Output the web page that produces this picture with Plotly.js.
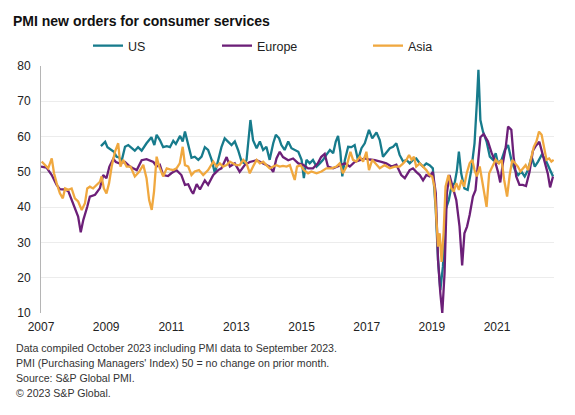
<!DOCTYPE html>
<html>
<head>
<meta charset="utf-8">
<script src="https://cdn.plot.ly/plotly-3.0.1.min.js"></script>
<style>html,body{margin:0;padding:0;background:#fff;}#chart{width:575px;height:415px;}</style>
</head>
<body>
<div id="chart"></div>
<script>
var usX = [2008.84,2008.97,2009.04,2009.17,2009.24,2009.32,2009.40,2009.47,2009.58,2009.68,2009.78,2009.88,2009.98,2010.09,2010.24,2010.39,2010.48,2010.55,2010.65,2010.75,2010.86,2010.96,2011.06,2011.14,2011.27,2011.35,2011.42,2011.52,2011.62,2011.72,2011.83,2011.93,2012.03,2012.13,2012.24,2012.34,2012.44,2012.54,2012.64,2012.75,2012.85,2012.95,2013.05,2013.16,2013.26,2013.31,2013.43,2013.51,2013.62,2013.72,2013.82,2013.92,2014.02,2014.13,2014.21,2014.31,2014.38,2014.48,2014.59,2014.69,2014.79,2014.90,2015.00,2015.07,2015.15,2015.25,2015.35,2015.46,2015.56,2015.66,2015.76,2015.87,2015.97,2016.05,2016.12,2016.19,2016.25,2016.33,2016.43,2016.53,2016.63,2016.73,2016.84,2016.94,2017.07,2017.17,2017.30,2017.40,2017.50,2017.60,2017.71,2017.81,2017.91,2018.01,2018.12,2018.22,2018.32,2018.42,2018.52,2018.63,2018.73,2018.83,2018.93,2019.03,2019.12,2019.19,2019.26,2019.34,2019.42,2019.52,2019.60,2019.70,2019.77,2019.83,2019.90,2020.00,2020.10,2020.21,2020.31,2020.38,2020.43,2020.49,2020.57,2020.68,2020.78,2020.88,2020.96,2021.03,2021.14,2021.24,2021.34,2021.44,2021.55,2021.65,2021.75,2021.85,2021.95,2022.06,2022.16,2022.26,2022.37,2022.47,2022.57,2022.67,2022.72];
var usY = [57.3,58.5,57.0,56.0,55.7,54.3,54.1,52.9,57.1,57.6,56.7,56.0,57.0,56.0,58.1,59.8,57.6,60.5,59.0,57.0,57.3,57.0,58.8,57.9,60.2,58.6,61.4,57.5,54.0,54.3,53.4,54.3,57.0,56.2,53.4,49.6,53.4,57.0,59.5,58.6,57.6,58.6,56.2,52.9,52.4,53.4,64.7,59.0,56.7,58.6,56.2,57.1,53.4,58.1,60.5,59.5,57.6,56.2,58.6,56.7,56.2,55.7,53.4,48.2,53.4,52.4,53.4,51.5,52.4,53.4,54.8,56.2,55.3,58.6,60.2,55.7,48.7,53.4,57.1,57.0,57.6,53.4,56.7,58.1,61.9,59.5,61.2,59.0,54.3,55.3,56.7,57.1,58.1,54.8,52.9,53.4,52.4,53.4,53.8,52.4,51.5,52.4,51.9,51.0,39.2,25.0,16.5,23.2,39.2,42.0,45.8,46.8,50.5,55.7,49.6,45.3,44.9,50.5,58.1,69.4,78.9,64.7,61.4,58.6,54.3,53.4,55.3,52.4,53.4,56.2,57.6,53.4,50.5,49.1,50.1,48.7,50.5,54.3,51.5,52.9,54.8,53.8,51.9,49.6,48.7];

var euX = [2007.00,2007.17,2007.33,2007.48,2007.58,2007.74,2007.84,2007.94,2008.04,2008.14,2008.22,2008.30,2008.42,2008.50,2008.66,2008.81,2008.91,2009.01,2009.10,2009.22,2009.30,2009.40,2009.58,2009.73,2009.83,2009.94,2010.09,2010.24,2010.45,2010.55,2010.65,2010.75,2010.90,2011.00,2011.16,2011.31,2011.42,2011.52,2011.62,2011.67,2011.78,2011.88,2012.03,2012.13,2012.29,2012.44,2012.54,2012.70,2012.80,2012.95,2013.10,2013.26,2013.41,2013.62,2013.82,2014.02,2014.13,2014.23,2014.33,2014.43,2014.59,2014.74,2014.90,2015.05,2015.20,2015.35,2015.50,2015.60,2015.71,2015.81,2015.97,2016.12,2016.33,2016.48,2016.63,2016.79,2016.94,2017.09,2017.25,2017.45,2017.60,2017.76,2017.91,2018.06,2018.17,2018.32,2018.42,2018.52,2018.63,2018.73,2018.83,2018.93,2019.03,2019.12,2019.19,2019.26,2019.32,2019.39,2019.46,2019.54,2019.65,2019.75,2019.85,2019.93,2020.00,2020.08,2020.16,2020.26,2020.34,2020.41,2020.49,2020.59,2020.72,2020.83,2020.93,2021.03,2021.10,2021.18,2021.27,2021.34,2021.44,2021.51,2021.59,2021.69,2021.79,2021.89,2022.00,2022.10,2022.20,2022.30,2022.39,2022.49,2022.56,2022.63,2022.72];
var euY = [51.5,51.2,49.1,46.3,45.1,45.0,44.5,42.0,39.7,37.3,32.9,36.4,40.1,43.0,43.5,45.4,49.1,48.2,51.5,53.7,52.8,52.4,52.8,51.5,51.0,50.5,53.3,53.6,52.8,51.5,52.0,49.1,48.8,49.6,50.5,49.1,46.3,46.5,44.5,43.8,46.5,45.0,47.6,46.3,49.1,50.5,51.0,54.2,51.5,52.4,50.0,52.0,52.8,53.3,52.4,51.5,50.0,53.8,55.7,54.2,53.3,53.8,52.4,52.0,51.0,51.0,52.4,54.2,55.1,51.5,51.0,51.5,52.4,51.5,52.8,53.3,53.8,53.5,53.3,52.8,52.4,51.5,52.0,49.1,48.2,50.5,51.0,50.0,49.1,47.6,49.1,48.7,50.0,44.0,25.0,15.6,10.0,21.3,44.0,49.1,45.4,42.0,34.5,23.5,32.6,34.5,37.8,43.0,44.8,52.5,59.8,60.7,58.7,55.5,53.3,50.0,47.0,52.4,57.1,62.8,61.9,54.2,48.7,46.3,46.3,46.0,50.0,55.9,57.5,58.5,55.5,52.5,49.5,45.6,48.7];

var asX = [2007.02,2007.12,2007.22,2007.33,2007.40,2007.48,2007.58,2007.67,2007.74,2007.84,2007.94,2008.04,2008.14,2008.25,2008.35,2008.42,2008.50,2008.60,2008.71,2008.81,2008.86,2008.93,2009.01,2009.09,2009.17,2009.27,2009.37,2009.44,2009.52,2009.63,2009.75,2009.88,2010.02,2010.14,2010.24,2010.32,2010.40,2010.47,2010.55,2010.63,2010.75,2010.86,2010.96,2011.06,2011.16,2011.26,2011.35,2011.42,2011.52,2011.62,2011.72,2011.85,2011.98,2012.13,2012.29,2012.39,2012.49,2012.59,2012.70,2012.80,2012.90,2013.00,2013.10,2013.21,2013.31,2013.41,2013.51,2013.62,2013.72,2013.82,2013.92,2014.02,2014.13,2014.23,2014.33,2014.43,2014.54,2014.64,2014.74,2014.79,2014.86,2014.97,2015.07,2015.20,2015.30,2015.46,2015.61,2015.76,2015.92,2016.07,2016.17,2016.27,2016.38,2016.43,2016.50,2016.58,2016.68,2016.79,2016.89,2016.99,2017.07,2017.17,2017.30,2017.40,2017.55,2017.71,2017.86,2018.01,2018.12,2018.22,2018.30,2018.38,2018.45,2018.52,2018.63,2018.73,2018.83,2018.93,2019.01,2019.08,2019.14,2019.19,2019.24,2019.30,2019.36,2019.42,2019.51,2019.60,2019.67,2019.75,2019.83,2019.91,2019.99,2020.07,2020.16,2020.24,2020.31,2020.38,2020.47,2020.55,2020.62,2020.68,2020.76,2020.86,2020.96,2021.06,2021.14,2021.22,2021.31,2021.39,2021.47,2021.56,2021.64,2021.72,2021.79,2021.88,2021.96,2022.05,2022.13,2022.21,2022.29,2022.37,2022.44,2022.52,2022.60,2022.67,2022.74];
var asY = [52.9,52.0,51.0,53.8,49.6,46.8,43.9,42.5,45.3,44.9,45.3,42.5,41.6,39.2,41.1,45.3,45.8,45.3,46.3,47.2,48.7,45.3,43.9,46.8,51.5,55.7,58.1,51.5,53.4,51.5,51.5,48.7,50.1,52.0,48.2,42.0,39.2,44.4,54.3,51.5,48.7,51.0,50.7,50.5,51.0,52.4,57.1,51.9,51.5,49.1,50.1,50.5,49.1,50.5,52.9,51.5,52.4,51.5,51.9,52.9,52.4,51.9,51.9,53.4,52.4,49.6,51.5,53.4,52.4,52.9,51.9,51.0,51.5,51.9,51.5,51.7,51.5,51.9,49.1,47.7,51.5,51.9,50.5,49.6,50.1,49.6,50.1,51.0,51.0,51.5,52.4,49.6,51.5,53.4,55.7,53.4,52.9,54.3,52.9,55.7,50.5,53.4,52.0,51.0,51.9,51.0,51.5,51.5,52.4,53.4,54.8,53.4,54.3,51.5,52.4,51.5,50.5,49.1,48.7,45.8,34.5,28.8,32.6,24.5,32.6,45.8,49.1,45.3,44.4,46.8,44.9,47.7,45.8,49.6,52.4,53.4,50.5,48.7,51.5,46.8,43.9,40.1,49.6,51.5,53.4,52.4,53.4,47.7,43.0,49.1,53.4,52.4,51.5,50.1,51.0,51.9,50.5,54.3,57.1,58.6,61.4,60.5,56.7,53.4,53.8,52.9,53.4];

var yearTicks = [2007,2009,2011,2013,2015,2017,2019,2021];
var yearLabels = ["2007","2009","2011","2013","2015","2017","2019","2021"];
var seriesNames = ["US","Europe","Asia"];
var titleText = "PMI new orders for consumer services";
var notes = [
  "Data compiled October 2023 including PMI data to September 2023.",
  "PMI (Purchasing Managers' Index) 50 = no change on prior month.",
  "Source: S&P Global PMI.",
  "\u00A9 2023 S&P Global."
];

// ---- Styling ----
var FONT = "Liberation Sans, Arial, sans-serif";
var colors = ["#177b8c", "#6c1f78", "#f0a83f"];

var traces = [
  {x: usX, y: usY, name: seriesNames[0], legend: "legend"},
  {x: euX, y: euY, name: seriesNames[1], legend: "legend2"},
  {x: asX, y: asY, name: seriesNames[2], legend: "legend3"}
].map(function (t, i) {
  t.type = "scatter";
  t.mode = "lines";
  t.line = {color: colors[i], width: 2.3};
  t.hoverinfo = "skip";
  return t;
});

function legendAt(xpx) {
  return {
    xref: "container", yref: "container",
    x: xpx / 575, y: 1 - 46 / 415,
    xanchor: "left", yanchor: "middle",
    orientation: "h", bgcolor: "rgba(0,0,0,0)",
    font: {family: FONT, size: 12.5, color: "#222"},
    itemwidth: 30
  };
}

var plotTop = 66, plotBottom = 313;
var annotations = notes.map(function (txt, i) {
  var py = 348.3 + i * 15;
  return {
    xref: "paper", yref: "paper",
    x: (14 - 41) / 513, y: (plotBottom - py) / (plotBottom - plotTop),
    xanchor: "left", yanchor: "middle",
    text: txt, showarrow: false,
    font: {family: FONT, size: 10.6, color: "#333"}
  };
});

var layout = {
  width: 575, height: 415,
  margin: {l: 41, r: 21, t: 66, b: 102},
  paper_bgcolor: "#fff", plot_bgcolor: "#fff",
  font: {family: FONT, color: "#222"},
  title: {
    text: titleText,
    xref: "container", yref: "container",
    x: 13 / 575, y: 1 - 21 / 415,
    xanchor: "left", yanchor: "middle",
    font: {family: FONT, size: 14, weight: "bold", color: "#111"}
  },
  showlegend: true,
  legend: legendAt(88),
  legend2: legendAt(217),
  legend3: legendAt(368),
  xaxis: {
    range: [2007, 2022.75],
    tickmode: "array", tickvals: yearTicks, ticktext: yearLabels,
    showgrid: false, zeroline: false, showline: false, ticks: "",
    ticklabelstandoff: 5,
    tickfont: {family: FONT, size: 12, color: "#222"},
    fixedrange: true
  },
  yaxis: {
    range: [10, 80], dtick: 10, tick0: 10,
    showgrid: true, gridcolor: "#ececec", gridwidth: 1,
    zeroline: false, showline: true, linecolor: "#b5b5b5", linewidth: 1,
    ticks: "", ticklabelstandoff: 7,
    tickfont: {family: FONT, size: 12, color: "#222"},
    fixedrange: true
  },
  shapes: [{
    type: "line", xref: "paper", yref: "y",
    x0: 0, x1: 1, y0: 50, y1: 50,
    line: {color: "#a6a6a6", width: 1.3},
    layer: "below"
  }],
  annotations: annotations
};

Plotly.newPlot("chart", traces, layout, {displayModeBar: false, staticPlot: true});
</script>
</body>
</html>
